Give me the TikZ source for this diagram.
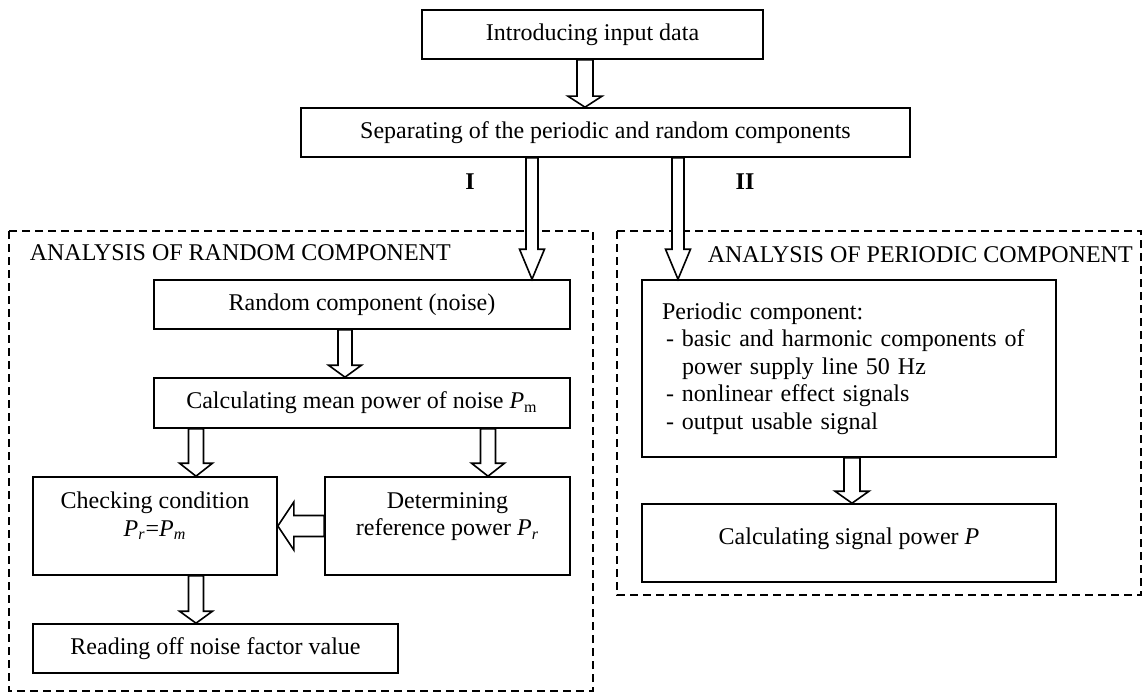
\documentclass[tikz,border=0pt]{standalone}
\usepackage{fontspec}
\setmainfont{Liberation Serif}
\usetikzlibrary{calc}

% hollow block arrow: start, tip, half shaft, half head, head length
\newcommand{\blockarrow}[5]{%
  \filldraw[fill=white, line join=miter]
    let \p1=(#1), \p2=(#2),
        \n1={atan2(\y2-\y1,\x2-\x1)}, \n2={veclen(\x2-\x1,\y2-\y1)} in
    [shift={(\p1)}, rotate=\n1]
    (0pt,#3) -- ({\n2-#5},#3) -- ({\n2-#5},#4) -- (\n2,0pt)
    -- ({\n2-#5},-#4) -- ({\n2-#5},-#3) -- (0pt,-#3) -- cycle;
}
\newcommand{\pw}[1]{\textit{P}\textsubscript{#1}}
\newcommand{\lowpad}[1]{\rule[-#1]{0pt}{0pt}}

\begin{document}
\begin{tikzpicture}[x=0.5pt, y=-0.5pt, line width=0.8pt,
    font=\fontsize{12pt}{13.8pt}\selectfont]
  \tikzstyle{box} = [draw, rectangle, align=center, inner sep=0pt]
  \tikzstyle{frame} = [line width=1pt, dash pattern=on 4pt off 2.5pt]
  \useasboundingbox (0,0) rectangle (1144,695);

  \draw[frame] (9,231) rectangle (593,691);
  \draw[frame] (617,231) rectangle (1141,595);
  \node[anchor=west, inner sep=0pt] (rt) at (29,253) {ANALYSIS OF RANDOM COMPONENT};
  \node[anchor=west, inner sep=0pt] (pt) at (707,255) {ANALYSIS OF PERIODIC COMPONENT};

  \node[box, minimum width=170.5pt, minimum height=24.5pt] (inp) at (592.5,34.5) {Introducing input data};
  \node[box, minimum width=304.5pt, minimum height=24.5pt] (sep) at (605.5,132.5) {Separating of the periodic and random components};
  \node[font=\fontsize{12pt}{13.8pt}\selectfont\bfseries] (one) at (470,182) {I};
  \node[font=\fontsize{12pt}{13.8pt}\selectfont\bfseries] (two) at (745,182) {II};

  \node[box, minimum width=208pt, minimum height=24.5pt] (rnd) at (362,304.5) {Random component (noise)};
  \node[box, minimum width=208pt, minimum height=25pt] (mean) at (362,403) {Calculating mean power of noise \pw{m}};
  \node[box, minimum width=122pt, minimum height=49pt] (chk) at (155,526) {Checking condition\\ \pw{\textit{r}}=\pw{\textit{m}}\lowpad{12pt}};
  \node[box, minimum width=122.5pt, minimum height=49pt] (ref) at (447.5,526) {Determining\\ reference power \pw{\textit{r}}\lowpad{12pt}};
  \node[box, minimum width=182.5pt, minimum height=24.5pt] (read) at (215.5,648.5) {Reading off noise factor value};

  \node[box, align=left, text width=187pt, inner xsep=10pt, minimum height=88.5pt] (per) at (849,368.5) {Periodic component:\\
    \hspace*{2pt}\makebox[185pt][s]{- basic and harmonic components of}\\
    \hspace*{10pt}power supply line 50 Hz\\
    \hspace*{2pt}- nonlinear effect signals\\
    \hspace*{2pt}- output usable signal};
  \node[box, minimum width=207pt, minimum height=39pt] (sig) at (849,543) {Calculating signal power \textit{P}\lowpad{7pt}};

  \blockarrow{585,0 |- inp.south}{585,0 |- sep.north}{4pt}{8.5pt}{5.5pt}
  \blockarrow{532,0 |- sep.south}{532,0 |- rnd.north}{3pt}{6.25pt}{15pt}
  \blockarrow{678,0 |- sep.south}{678,0 |- per.north}{3pt}{6.25pt}{15pt}
  \blockarrow{345,0 |- rnd.south}{345,0 |- mean.north}{3.5pt}{8.25pt}{6pt}
  \blockarrow{196,0 |- mean.south}{196,0 |- chk.north}{3.75pt}{8.25pt}{6.5pt}
  \blockarrow{488,0 |- mean.south}{488,0 |- ref.north}{3.75pt}{8.25pt}{6.5pt}
  \blockarrow{ref.west}{chk.east}{5.25pt}{12pt}{8pt}
  \blockarrow{196,0 |- chk.south}{196,0 |- read.north}{3.75pt}{8.25pt}{6pt}
  \blockarrow{852,0 |- per.south}{852,0 |- sig.north}{4pt}{8.5pt}{6pt}
\end{tikzpicture}
\end{document}
